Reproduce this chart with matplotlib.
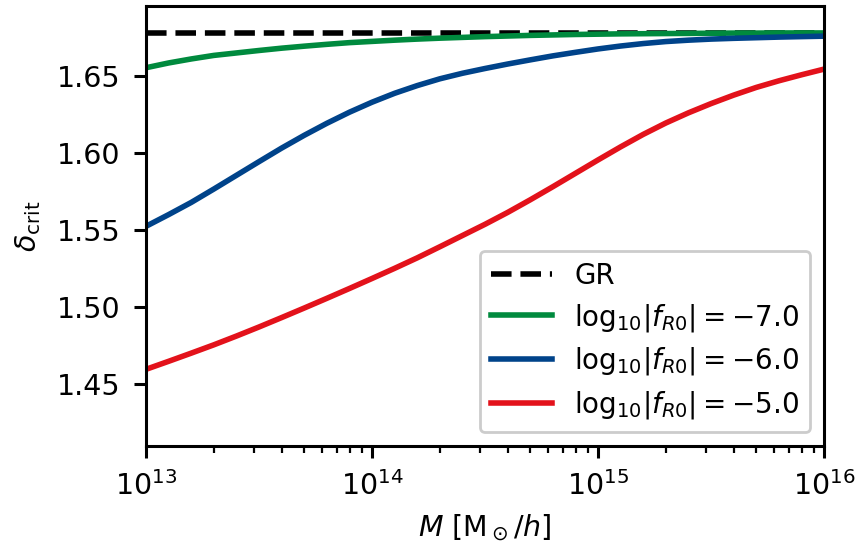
import matplotlib
matplotlib.use("Agg")
import matplotlib.pyplot as plt
import numpy as np

log_mass = [13.0, 13.1, 13.2, 13.3, 13.4, 13.5, 13.6, 13.7, 13.8, 13.9,
            14.0, 14.1, 14.2, 14.3, 14.4, 14.5, 14.6, 14.7, 14.8, 14.9,
            15.0, 15.1, 15.2, 15.3, 15.4, 15.5, 15.6, 15.7, 15.8, 15.9, 16.0]
delta_gr = 1.6782
delta_f7 = [1.6554, 1.6585, 1.6611, 1.6634, 1.6650, 1.6666, 1.6681, 1.6694,
            1.6706, 1.6717, 1.6725, 1.6733, 1.6740, 1.6746, 1.6751, 1.6756,
            1.6760, 1.6764, 1.6767, 1.6770, 1.6772, 1.6774, 1.6775, 1.6776,
            1.6777, 1.6778, 1.6779, 1.6779, 1.6780, 1.6780, 1.6780]
delta_f6 = [1.5524, 1.5600, 1.5679, 1.5766, 1.5855, 1.5944, 1.6032, 1.6115,
            1.6193, 1.6265, 1.6330, 1.6388, 1.6438, 1.6482, 1.6518, 1.6549,
            1.6578, 1.6605, 1.6631, 1.6654, 1.6676, 1.6695, 1.6711, 1.6724,
            1.6733, 1.6740, 1.6745, 1.6749, 1.6753, 1.6756, 1.6759]
delta_f5 = [1.4595, 1.4647, 1.4700, 1.4754, 1.4811, 1.4870, 1.4931, 1.4993,
            1.5056, 1.5120, 1.5185, 1.5251, 1.5319, 1.5391, 1.5464, 1.5537,
            1.5614, 1.5696, 1.5781, 1.5868, 1.5955, 1.6040, 1.6121, 1.6195,
            1.6261, 1.6321, 1.6376, 1.6426, 1.6469, 1.6508, 1.6545]
labels = ["GR", r"$\mathrm{log}_{10}|f_{R0}| = -7.0$",
          r"$\mathrm{log}_{10}|f_{R0}| = -6.0$",
          r"$\mathrm{log}_{10}|f_{R0}| = -5.0$"]
colors = ["#008a3e", "#00438a", "#e3121b"]
ytick_vals = [1.45, 1.50, 1.55, 1.60, 1.65]
ytick_labels = ["1.45", "1.50", "1.55", "1.60", "1.65"]

plt.rcParams["font.family"] = ["DejaVu Sans"]
plt.rcParams["mathtext.fontset"] = "dejavusans"

fig = plt.figure(figsize=(8.59, 5.45), dpi=100)
ax = fig.add_axes([0.170, 0.1817, 0.7893, 0.8073])

mass = 10.0 ** np.array(log_mass)
lw = 4.0
ax.plot([mass[0], mass[-1]], [delta_gr, delta_gr], color="black", lw=lw,
        linestyle="--", label=labels[0], zorder=1)
for vals, lab, c in zip([delta_f7, delta_f6, delta_f5], labels[1:], colors):
    ax.plot(mass, vals, color=c, lw=lw, label=lab)

ax.set_xscale("log")
ax.set_xlim(1e13, 1e16)
ax.set_ylim(1.4097, 1.6955)
ax.set_yticks(ytick_vals)
ax.set_yticklabels(ytick_labels)

fs = 20.5
ax.tick_params(axis="both", which="major", labelsize=fs, length=8.3,
               width=2.2, pad=10)
ax.tick_params(axis="x", which="minor", length=4.8, width=1.6)
for sp in ax.spines.values():
    sp.set_linewidth(2.2)

ax.set_xlabel(r"$M\ [\mathrm{M}_\odot/h]$", fontsize=fs, labelpad=8)
ax.set_ylabel(r"$\delta_{\rm crit}$", fontsize=fs, labelpad=10)

leg = ax.legend(loc="lower right", fontsize=20, handlelength=2.2,
                framealpha=1.0, borderaxespad=0.5, labelspacing=0.42)
leg.get_frame().set_edgecolor("#cccccc")
leg.get_frame().set_linewidth(2)

fig.savefig("out.png", dpi=100)
